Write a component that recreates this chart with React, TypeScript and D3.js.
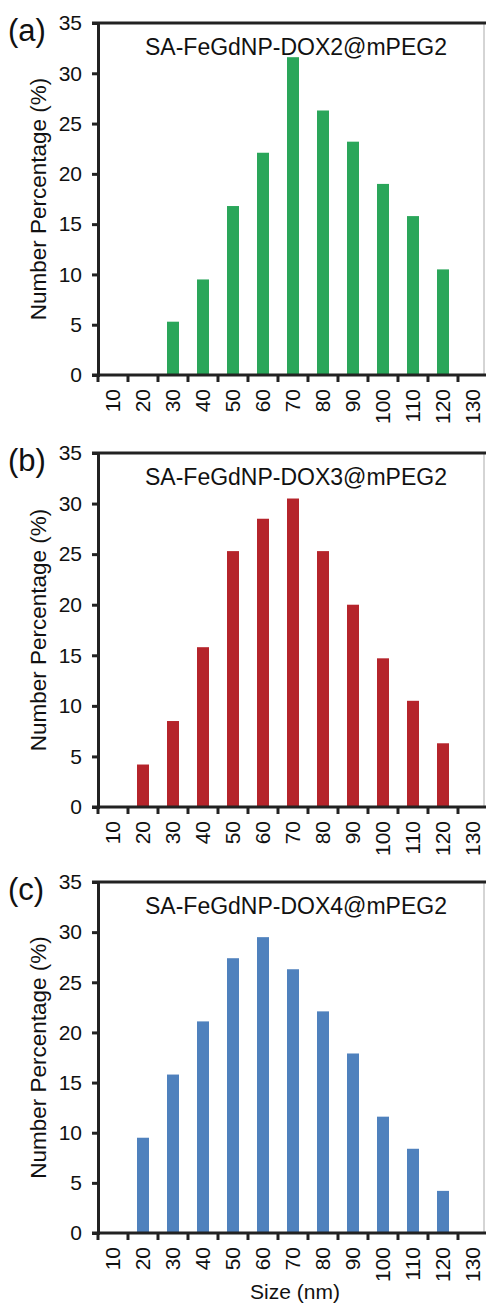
import React, { useEffect, useRef } from 'react';
import * as d3 from 'd3';

const sizes = ['10', '20', '30', '40', '50', '60', '70', '80', '90', '100', '110', '120', '130'];
const dox2 = [0, 0, 5.3, 9.5, 16.8, 22.1, 31.6, 26.3, 23.2, 19.0, 15.8, 10.5, 0];
const dox3 = [0, 4.2, 8.5, 15.8, 25.3, 28.5, 30.5, 25.3, 20.0, 14.7, 10.5, 6.3, 0];
const dox4 = [0, 9.5, 15.8, 21.1, 27.4, 29.5, 26.3, 22.1, 17.9, 11.6, 8.4, 4.2, 0];
const yTicks = [0, 5, 10, 15, 20, 25, 30, 35];

const panels = [
  { tag: '(a)', title: 'SA-FeGdNP-DOX2@mPEG2', values: dox2, color: '#2aa65a', top: 23, bottom: 375 },
  { tag: '(b)', title: 'SA-FeGdNP-DOX3@mPEG2', values: dox3, color: '#b5242b', top: 453, bottom: 807 },
  { tag: '(c)', title: 'SA-FeGdNP-DOX4@mPEG2', values: dox4, color: '#4f81bd', top: 882, bottom: 1233 },
];

const W = 486, H = 1308;
const left = 98;
const font = 'Arial, "Liberation Sans", sans-serif';

export default function App() {
  const ref = useRef<SVGSVGElement>(null);

  useEffect(() => {
    const svg = d3.select(ref.current);
    svg.selectAll('*').remove();

    const x = d3.scaleBand().domain(sizes).range([left, left + 30 * sizes.length]).padding(0);

    panels.forEach((p) => {
      const y = d3.scaleLinear().domain([0, 35]).range([p.bottom, p.top]);
      const g = svg.append('g');

      // frame: thin right edge, thick top
      g.append('line').attr('x1', 484).attr('x2', 484).attr('y1', p.top).attr('y2', p.bottom)
        .attr('stroke', '#aaa').attr('stroke-width', 1);
      g.append('line').attr('x1', left - 6).attr('x2', W).attr('y1', p.top).attr('y2', p.top)
        .attr('stroke', '#222').attr('stroke-width', 3);

      // bars
      g.selectAll('rect.bar')
        .data(p.values.map((v, i) => ({ v, k: sizes[i] })).filter((d) => d.v > 0))
        .enter().append('rect')
        .attr('x', (d) => x(d.k)! + x.bandwidth() * 0.3)
        .attr('width', x.bandwidth() * 0.4)
        .attr('y', (d) => y(d.v))
        .attr('height', (d) => y(0) - y(d.v))
        .attr('fill', p.color);

      // y axis
      const ya = g.append('g').attr('transform', `translate(${left},0)`)
        .call(d3.axisLeft(y).tickValues(yTicks).tickSize(6).tickPadding(10));
      ya.select('.domain').attr('stroke', '#222').attr('stroke-width', 3);
      ya.selectAll('.tick line').attr('stroke', '#222').attr('stroke-width', 3);
      ya.selectAll('.tick text').attr('font-family', font).attr('font-size', 21).attr('fill', '#111');

      // x axis: ticks at band boundaries
      const xa = g.append('g').attr('transform', `translate(0,${p.bottom})`);
      xa.append('line').attr('x1', left - 6).attr('x2', W).attr('y1', 0).attr('y2', 0)
        .attr('stroke', '#222').attr('stroke-width', 3);
      xa.selectAll('line.tk').data(sizes).enter().append('line')
        .attr('x1', (d) => x(d)!).attr('x2', (d) => x(d)!)
        .attr('y1', 0).attr('y2', 7)
        .attr('stroke', '#222').attr('stroke-width', 3);
      xa.selectAll('text.lbl').data(sizes).enter().append('text')
        .attr('transform', (d) => `translate(${x(d)! + x.bandwidth() / 2},14) rotate(-90)`)
        .attr('text-anchor', 'end')
        .attr('dy', '0.35em')
        .attr('font-family', font).attr('font-size', 21).attr('fill', '#111')
        .text((d) => d);

      // panel tag, title, y label
      g.append('text').attr('x', 8).attr('y', p.top + 18)
        .attr('font-family', font).attr('font-size', 31).attr('fill', '#111').text(p.tag);
      g.append('text').attr('x', 296).attr('y', p.top + 32).attr('text-anchor', 'middle')
        .attr('font-family', font).attr('font-size', 23).attr('fill', '#111').text(p.title);
      g.append('text')
        .attr('transform', `translate(38,${(p.top + p.bottom) / 2}) rotate(-90)`)
        .attr('text-anchor', 'middle').attr('dy', '0.35em')
        .attr('font-family', font).attr('font-size', 22.5).attr('fill', '#111')
        .text('Number Percentage (%)');
    });

    svg.append('text').attr('x', 295).attr('y', 1299).attr('text-anchor', 'middle')
      .attr('font-family', font).attr('font-size', 21).attr('fill', '#111').text('Size (nm)');
  }, []);

  return (
    <svg ref={ref} width={W} height={H}
      style={{ position: 'absolute', left: 0, top: 0, background: '#fff' }} />
  );
}
